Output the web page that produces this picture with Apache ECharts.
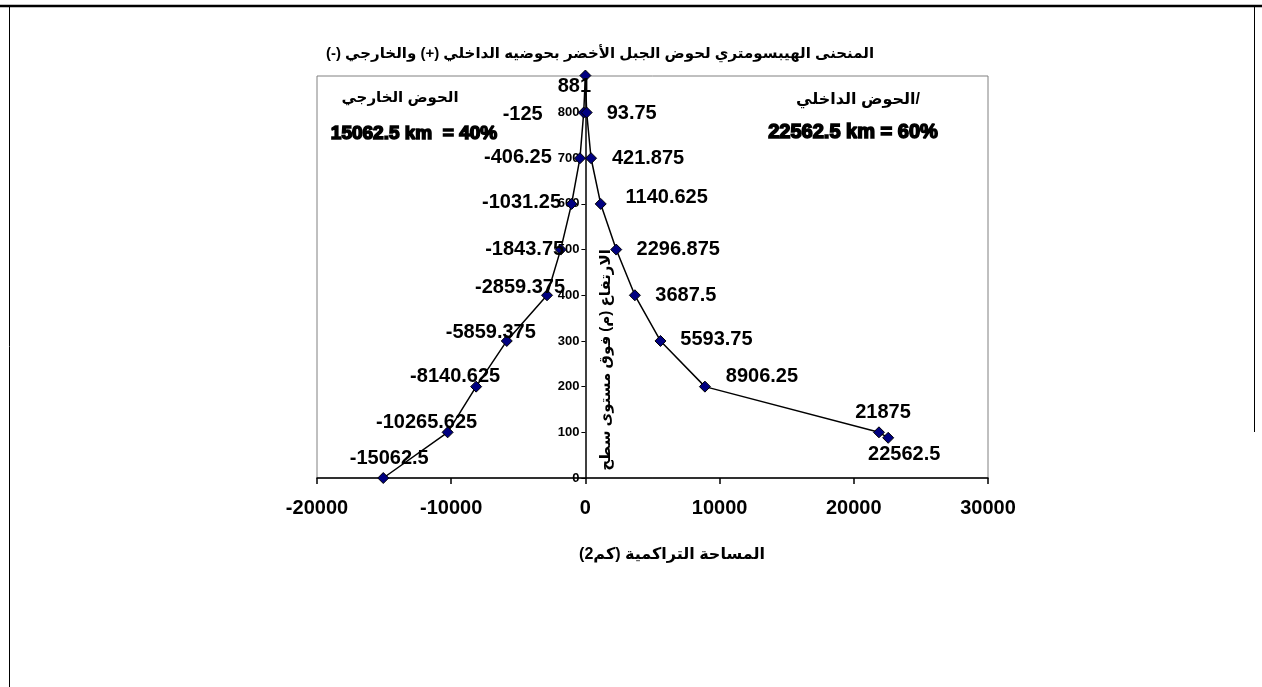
<!DOCTYPE html>
<html>
<head>
<meta charset="utf-8">
<script src="https://cdn.jsdelivr.net/npm/echarts@6/dist/echarts.min.js"></script>
<style>
  html, body { margin: 0; padding: 0; background: #fff; }
  #chart { width: 1262px; height: 687px; }
</style>
</head>
<body>
<div id="chart"></div>
<script>
// Hypsometric curve: cumulative area (km2) against elevation (m).
// Negative areas = outer basin, positive areas = inner basin.
const areaValues = [-15062.5, -10265.625, -8140.625, -5859.375, -2859.375, -1843.75, -1031.25, -406.25, -125, 0,
                    93.75, 421.875, 1140.625, 2296.875, 3687.5, 5593.75, 8906.25, 21875, 22562.5];
const heightValues = [0, 100, 200, 300, 400, 500, 600, 700, 800, 881,
                      800, 700, 600, 500, 400, 300, 200, 100, 88];
const xTicks = { min: -20000, max: 30000, step: 10000 };
const yTicks = { min: 0, max: 880, step: 100 };

const chartTitle = 'المنحنى الهيبسومتري لحوض الجبل الأخضر بحوضيه الداخلي (+) والخارجي (-)';
const xTitle = 'المساحة التراكمية (كم2)';
const yTitle = 'الارتفاع (م) فوق مستوى سطح';
const outerName = 'الحوض الخارجي';
const innerName = '/الحوض الداخلي';

// label placement around each point (dx, dy from the marker centre)
const labelShift = [
  [6, -20], [-21, -10], [-21, -10], [-16, -8], [-27, -8], [-36, 0], [-50, -1], [-62, -1], [-61, 2], [-11, 11],
  [45, 1], [57, 0], [66, -6], [62, 0], [51, 0], [56, -1], [57, -10], [4, -20], [16, 17]
];

const RLM = '\u200F';
const rtl = s => RLM + s + RLM;

const outerTotal = -Math.min(...areaValues);
const innerTotal = Math.max(...areaValues);
const pct = v => Math.round(100 * v / (outerTotal + innerTotal)) + '%';

const FONT = '"Liberation Sans", Arial, "DejaVu Sans", sans-serif';
const GRID = { left: 317, right: 274, top: 76, bottom: 209 };

const points = areaValues.map((x, i) => ({
  value: [x, heightValues[i]],
  label: { offset: labelShift[i] }
}));

const chart = echarts.init(document.getElementById('chart'), null, { renderer: 'canvas' });

chart.setOption({
  animation: false,
  backgroundColor: '#ffffff',
  grid: Object.assign({
    show: true, borderColor: '#808080', borderWidth: 1, backgroundColor: 'transparent'
  }, GRID),
  xAxis: {
    type: 'value',
    min: xTicks.min, max: xTicks.max, interval: xTicks.step,
    axisLine: { onZero: false, lineStyle: { color: '#000', width: 1.5 } },
    axisTick: { show: true, inside: false, length: 6, lineStyle: { color: '#000', width: 1.5 } },
    axisLabel: { color: '#000', fontFamily: FONT, fontWeight: 'bold', fontSize: 20, margin: 20, formatter: v => String(v) },
    splitLine: { show: false }
  },
  yAxis: {
    type: 'value',
    min: yTicks.min, max: yTicks.max, interval: yTicks.step,
    axisLine: { onZero: false, lineStyle: { color: '#000', width: 1.5 } },
    axisTick: { show: true, inside: false, length: 4, lineStyle: { color: '#000', width: 1 } },
    axisLabel: { color: '#000', fontFamily: FONT, fontWeight: 'bold', fontSize: 13, margin: 6, showMaxLabel: false, formatter: v => String(v) },
    splitLine: { show: false }
  },
  series: [{
    type: 'line',
    data: points,
    symbol: 'diamond',
    symbolSize: 11,
    clip: false,
    lineStyle: { color: '#000', width: 1.5 },
    itemStyle: { color: '#000080', borderColor: '#000', borderWidth: 1 },
    label: {
      show: true,
      position: 'inside',
      color: '#000',
      fontFamily: FONT,
      fontWeight: 'bold',
      fontSize: 20,
      formatter: p => (p.value[0] === 0 ? String(p.value[1]) : String(p.value[0]))
    },
    z: 3
  }],
  graphic: [
    // page frame
    { type: 'line', shape: { x1: 0, y1: 6, x2: 1262, y2: 6 }, style: { stroke: '#000', lineWidth: 2.5 }, silent: true },
    { type: 'line', shape: { x1: 9.5, y1: 6, x2: 9.5, y2: 687 }, style: { stroke: '#000', lineWidth: 1 }, silent: true },
    { type: 'line', shape: { x1: 1254.5, y1: 6, x2: 1254.5, y2: 432 }, style: { stroke: '#000', lineWidth: 1 }, silent: true },
    // chart title
    { type: 'text', x: 600, y: 54, style: { text: rtl(chartTitle), fill: '#000', font: 'bold 15px ' + FONT, align: 'center', verticalAlign: 'middle' } },
    // axis titles
    { type: 'text', x: 672, y: 555, style: { text: rtl(xTitle), fill: '#000', font: 'bold 16px ' + FONT, align: 'center', verticalAlign: 'middle' } },
    { type: 'text', x: 606, y: 360, rotation: Math.PI / 2, style: { text: rtl(yTitle), fill: '#000', font: 'bold 15px ' + FONT, align: 'center', verticalAlign: 'middle' } },
    // basin notes
    { type: 'text', x: 400, y: 98, style: { text: rtl(outerName), fill: '#000', font: 'bold 15px ' + FONT, align: 'center', verticalAlign: 'middle' } },
    { type: 'text', x: 414, y: 134, style: { text: outerTotal + ' km  = ' + pct(outerTotal), fill: '#000', font: 'bold 19px ' + FONT, align: 'center', verticalAlign: 'middle', stroke: '#000', lineWidth: 1.6 } },
    { type: 'text', x: 858, y: 100, style: { text: rtl(innerName), fill: '#000', font: 'bold 16px ' + FONT, align: 'center', verticalAlign: 'middle' } },
    { type: 'text', x: 853, y: 132, style: { text: innerTotal + ' km = ' + pct(innerTotal), fill: '#000', font: 'bold 20px ' + FONT, align: 'center', verticalAlign: 'middle', stroke: '#000', lineWidth: 1.6 } }
  ]
});

// the vertical axis stands on x = 0: shift it there from the grid's left edge
const zeroX = chart.convertToPixel({ xAxisIndex: 0 }, 0);
chart.setOption({ yAxis: { offset: -(zeroX - GRID.left) } });
</script>
</body>
</html>
